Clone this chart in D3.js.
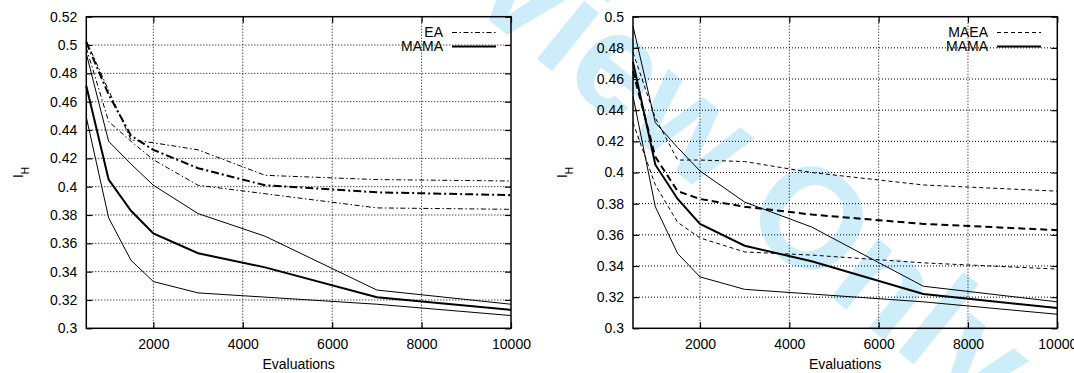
<!DOCTYPE html>
<html>
<head>
<meta charset="utf-8">
<script src="https://cdn.jsdelivr.net/npm/d3@7"></script>
<style>
  body { margin: 0; background: #fff; }
  svg text { font-family: "Liberation Sans", Arial, sans-serif; fill: #000; }
</style>
</head>
<body>
<svg id="chart" width="1074" height="373"></svg>
<script>
// evaluations at which the runs were sampled
const evals = [500, 1000, 1500, 2000, 3000, 4500, 7000, 10000];

// MAMA (same runs on both panels)
const mamaMean  = [0.471, 0.405, 0.383, 0.367, 0.353, 0.343, 0.322, 0.313];
const mamaUpper = [0.494, 0.432, 0.416, 0.401, 0.381, 0.365, 0.327, 0.317];
const mamaLower = [0.449, 0.378, 0.348, 0.333, 0.325, 0.322, 0.317, 0.309];

// EA (left panel)
const eaMean  = [0.502, 0.465, 0.436, 0.426, 0.413, 0.401, 0.396, 0.394];
const eaUpper = [0.503, 0.468, 0.433, 0.431, 0.426, 0.408, 0.405, 0.404];
const eaLower = [0.498, 0.446, 0.432, 0.419, 0.401, 0.395, 0.385, 0.384];

// MAEA (right panel)
const maeaMean  = [0.465, 0.410, 0.388, 0.383, 0.378, 0.373, 0.367, 0.363];
const maeaUpper = [0.477, 0.435, 0.408, 0.408, 0.407, 0.400, 0.392, 0.388];
const maeaLower = [0.432, 0.392, 0.368, 0.358, 0.349, 0.347, 0.342, 0.338];

const xTicks = [2000, 4000, 6000, 8000, 10000];
const yTicksLeft  = [0.3, 0.32, 0.34, 0.36, 0.38, 0.4, 0.42, 0.44, 0.46, 0.48, 0.5, 0.52];
const yTicksRight = [0.3, 0.32, 0.34, 0.36, 0.38, 0.4, 0.42, 0.44, 0.46, 0.48, 0.5];

const svg = d3.select("#chart");
svg.append("rect").attr("width", 1074).attr("height", 373).attr("fill", "#fff");

// watermark, behind the plots
svg.append("text")
  .attr("transform", "translate(686,116) rotate(39)")
  .attr("text-anchor", "middle")
  .attr("dominant-baseline", "central")
  .style("font-size", "142px")
  .style("font-weight", "bold")
  .style("fill", "#cdedfb")
  .text("Review Only");

const dashDotThin  = "5,2.5,1.5,2.5";
const dashDotThick = "8,3,2,3";
const dashThin  = "4,3";
const dashThick = "7,4";

function fmt(v) {
  return d3.format("")(+v.toFixed(2));
}

function drawPanel(p) {
  const x = d3.scaleLinear().domain([500, 10000]).range([p.left, p.right]);
  const y = d3.scaleLinear().domain(p.yDomain).range([p.bottom, p.top]);
  const g = svg.append("g");

  // grid
  g.append("g").selectAll("line").data(xTicks.slice(0, -1)).enter().append("line")
    .attr("x1", d => x(d)).attr("x2", d => x(d))
    .attr("y1", p.top).attr("y2", p.bottom)
    .attr("stroke", "#000").attr("stroke-width", 1).attr("stroke-dasharray", "1,2");
  g.append("g").selectAll("line").data(p.yTicks.slice(1, -1)).enter().append("line")
    .attr("x1", p.left).attr("x2", p.right)
    .attr("y1", d => y(d)).attr("y2", d => y(d))
    .attr("stroke", "#000").attr("stroke-width", 1).attr("stroke-dasharray", "1,2");

  // axes: gnuplot style ticks inward on all four sides
  const left = g.append("g").attr("transform", `translate(${p.left},0)`)
    .call(d3.axisLeft(y).tickValues(p.yTicks).tickSize(-6).tickPadding(9).tickFormat(fmt));
  const right = g.append("g").attr("transform", `translate(${p.right},0)`)
    .call(d3.axisRight(y).tickValues(p.yTicks).tickSize(-6).tickFormat(""));
  const bottom = g.append("g").attr("transform", `translate(0,${p.bottom})`)
    .call(d3.axisBottom(x).tickValues(xTicks).tickSize(-6).tickPadding(11).tickFormat(d3.format("")));
  const top = g.append("g").attr("transform", `translate(0,${p.top})`)
    .call(d3.axisTop(x).tickValues(xTicks).tickSize(-6).tickFormat(""));
  [left, right, bottom, top].forEach(a => {
    a.select(".domain").remove();
    a.selectAll("line").attr("stroke", "#000").attr("stroke-width", 1.2);
    a.selectAll("text").style("font-size", "14px").attr("font-family", null);
  });

  // series
  const line = d3.line().x((d, i) => x(evals[i])).y(d => y(d));
  p.series.forEach(s => {
    g.append("path").datum(s.values)
      .attr("d", line)
      .attr("fill", "none")
      .attr("stroke", "#000")
      .attr("stroke-width", s.width)
      .attr("stroke-dasharray", s.dash);
  });

  // frame
  g.append("rect")
    .attr("x", p.left).attr("y", p.top)
    .attr("width", p.right - p.left).attr("height", p.bottom - p.top)
    .attr("fill", "none").attr("stroke", "#000").attr("stroke-width", 1.5);

  // legend
  p.legend.forEach((l, i) => {
    const ly = 32.5 + i * 14;
    g.append("text").attr("x", p.legendX).attr("y", ly).attr("dy", "0.35em")
      .attr("text-anchor", "end").style("font-size", "14px").text(l.label);
    g.append("line").attr("x1", p.legendX + 9).attr("x2", p.legendX + 53)
      .attr("y1", ly).attr("y2", ly)
      .attr("stroke", "#000").attr("stroke-width", l.width).attr("stroke-dasharray", l.dash);
  });

  // axis titles
  g.append("text").attr("x", (p.left + p.right) / 2).attr("y", 369)
    .attr("text-anchor", "middle").style("font-size", "14px").text("Evaluations");
  const yl = g.append("text")
    .attr("transform", `translate(${p.yLabelX},${(p.top + p.bottom) / 2}) rotate(-90)`)
    .attr("text-anchor", "middle").style("font-size", "14px");
  yl.append("tspan").text("I");
  yl.append("tspan").attr("baseline-shift", "sub").style("font-size", "10px").text("H");
}

drawPanel({
  left: 86.3, right: 511, top: 16.7, bottom: 328.3,
  yDomain: [0.3, 0.52], yTicks: yTicksLeft, yLabelX: 23, legendX: 443,
  series: [
    { values: eaUpper, width: 1, dash: dashDotThin },
    { values: eaLower, width: 1, dash: dashDotThin },
    { values: eaMean, width: 2, dash: dashDotThick },
    { values: mamaUpper, width: 1, dash: null },
    { values: mamaLower, width: 1, dash: null },
    { values: mamaMean, width: 2, dash: null }
  ],
  legend: [
    { label: "EA", width: 1, dash: dashDotThin },
    { label: "MAMA", width: 2, dash: null }
  ]
});

drawPanel({
  left: 633, right: 1057.3, top: 16.7, bottom: 328.3,
  yDomain: [0.3, 0.5], yTicks: yTicksRight, yLabelX: 567, legendX: 988,
  series: [
    { values: maeaUpper, width: 1, dash: dashThin },
    { values: maeaLower, width: 1, dash: dashThin },
    { values: maeaMean, width: 2, dash: dashThick },
    { values: mamaUpper, width: 1, dash: null },
    { values: mamaLower, width: 1, dash: null },
    { values: mamaMean, width: 2, dash: null }
  ],
  legend: [
    { label: "MAEA", width: 1, dash: dashThin },
    { label: "MAMA", width: 2, dash: null }
  ]
});
</script>
</body>
</html>
